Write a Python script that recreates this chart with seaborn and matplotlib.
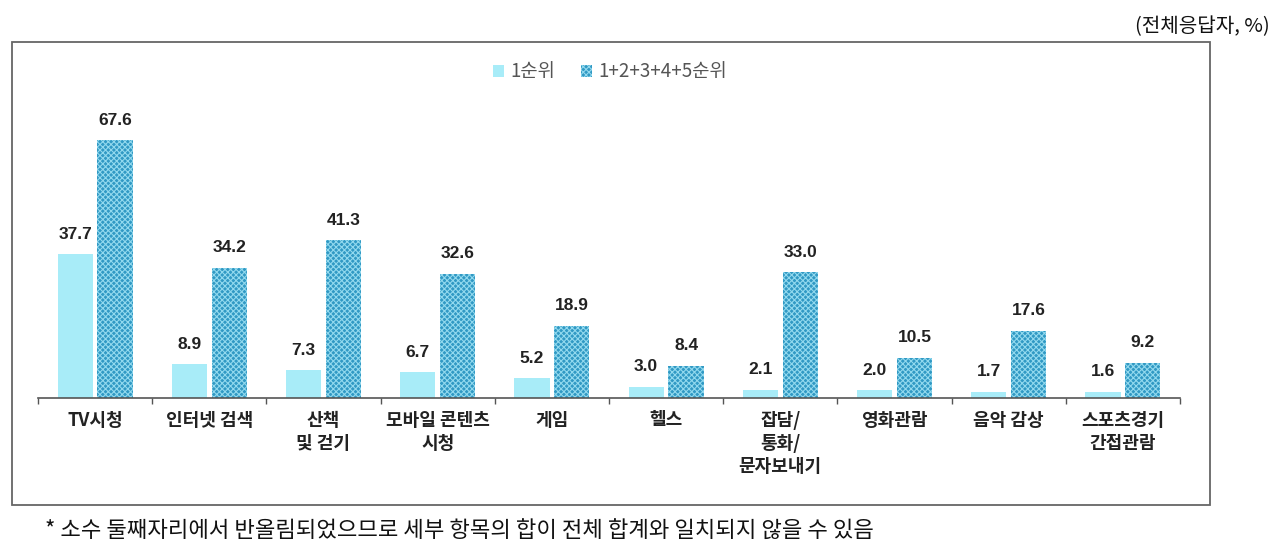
import matplotlib
matplotlib.use("Agg")
import matplotlib.pyplot as plt
from matplotlib.patches import Rectangle
from matplotlib.ticker import FixedLocator
import seaborn as sns
import pandas as pd

categories = ["TV시청", "인터넷 검색", "산책\n및 걷기", "모바일 콘텐츠\n시청", "게임", "헬스",
              "잡담/\n통화/\n문자보내기", "영화관람", "음악 감상", "스포츠경기\n간접관람"]
first_rank = [37.7, 8.9, 7.3, 6.7, 5.2, 3.0, 2.1, 2.0, 1.7, 1.6]
top5_rank = [67.6, 34.2, 41.3, 32.6, 18.9, 8.4, 33.0, 10.5, 17.6, 9.2]
series_names = ["1순위", "1+2+3+4+5순위"]
unit_text = "(전체응답자, %)"
footnote = "* 소수 둘째자리에서 반올림되었으므로 세부 항목의 합이 전체 합계와 일치되지 않을 수 있음"

sns.set_theme(style="white")
plt.rcParams["font.family"] = ["Noto Sans CJK KR", "DejaVu Sans"]
plt.rcParams["hatch.linewidth"] = 0.8

df = pd.DataFrame({
    "category": categories * 2,
    "value": first_rank + top5_rank,
    "series": [series_names[0]] * len(categories) + [series_names[1]] * len(categories),
})

light = "#A8ECF8"
dark = "#3199C4"
hatch_col = "#92D9EE"

fig = plt.figure(figsize=(12.8, 5.57), dpi=100)
ax = fig.add_axes([38 / 1280, 1 - 398 / 557, 1142 / 1280, 356 / 557])
sns.barplot(data=df, x="category", y="value", hue="series", order=categories,
            hue_order=series_names, palette=[light, dark], width=0.7, gap=0.12,
            ax=ax, legend=True, saturation=1)

n = len(categories)
for i, p in enumerate(ax.patches[:2 * n]):
    p.set_linewidth(0)
    if i >= n:
        p.set_hatch("xxxxxx")
        p.set_edgecolor(hatch_col)

for cont in ax.containers:
    ax.bar_label(cont, fmt="%.1f", padding=9, fontsize=12.5, color="#222222",
                 fontweight="bold", family=["Liberation Sans", "DejaVu Sans"])

ax.set_xlim(-0.5, n - 0.5)
ax.set_ylim(0, 93.3)
ax.set_xlabel("")
ax.set_ylabel("")
ax.set_yticks([])
for s in ["top", "right", "left"]:
    ax.spines[s].set_visible(False)
ax.spines["bottom"].set_color("#555555")
ax.spines["bottom"].set_linewidth(1.2)

ax.xaxis.set_major_locator(FixedLocator(list(range(n))))
ax.set_xticklabels(categories, fontsize=13, fontweight="bold", color="#222222",
                   linespacing=1.3, va="top")
ax.tick_params(axis="x", which="major", length=0, pad=9)
ax.xaxis.set_minor_locator(FixedLocator([i - 0.5 for i in range(n + 1)]))
ax.tick_params(axis="x", which="minor", length=4, width=1, color="#555555",
               direction="out", bottom=True)

handles, labels = ax.get_legend_handles_labels()
leg = ax.legend(handles, labels, loc="center", bbox_to_anchor=(610 / 1280, 1 - 72 / 557),
                bbox_transform=fig.transFigure, ncol=2, frameon=False, fontsize=13.5,
                handlelength=0.6, handleheight=0.6, handletextpad=0.3, columnspacing=1.4)
for t in leg.get_texts():
    t.set_color("#555555")
for h in leg.legend_handles:
    h.set_linewidth(0)
leg.legend_handles[1].set_hatch("xxxxxx")
leg.legend_handles[1].set_edgecolor(hatch_col)

fig.patches.append(Rectangle((12 / 1280, 1 - 505 / 557), (1210 - 12) / 1280, (505 - 42) / 557,
                             transform=fig.transFigure, fill=False, edgecolor="#666666",
                             linewidth=1.3))

fig.text(1270 / 1280, 1 - 27 / 557, unit_text, ha="right", va="center", fontsize=14.5,
         color="#111111")
fig.text(45 / 1280, 1 - 530 / 557, footnote, ha="left", va="center", fontsize=16,
         color="#111111")

fig.savefig("out.png", dpi=100)
